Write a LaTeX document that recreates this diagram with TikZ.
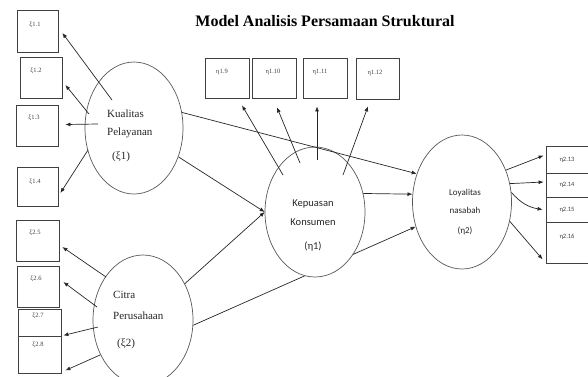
\documentclass[tikz,border=0pt]{standalone}
\usepackage{fontspec}
\setmainfont{Liberation Serif}
\newfontfamily\sanf{Carlito}
\usetikzlibrary{shapes.geometric,arrows.meta,calc,backgrounds}
\begin{document}
\begin{tikzpicture}[x=1pt,y=-1pt,
  box/.style={draw=black!75, line width=0.8pt, rectangle, inner sep=0pt},
  ell/.style={draw=black!65, line width=0.7pt, ellipse, fill=white, inner sep=0pt},
  conn/.style={draw=black!85, line width=0.7pt, -{Latex[length=5pt,width=4pt]}},
  lbl/.style={font=\fontsize{6.5}{7}\selectfont, inner sep=0pt, text=black!75},
  slbl/.style={font=\sanf\fontsize{6.5}{7}\selectfont, inner sep=0pt, text=black!75},
  serift/.style={font=\fontsize{11}{18}\selectfont, inner sep=0pt, align=left, text=black!85},
  sanst/.style={font=\sanf\fontsize{10.5}{19}\selectfont, inner sep=0pt, align=center, text=black!85},
]
\useasboundingbox (0,0) rectangle (588,376);
\clip (0,0) rectangle (588,376);

% title
\node[font=\bfseries\fontsize{16}{18}\selectfont, inner sep=0pt] (title) at (325,21) {Model Analisis Persamaan Struktural};

% left boxes
\node[box, minimum width=41pt, minimum height=42pt] (b1) at (37.5,31) {};
\node[box, minimum width=42pt, minimum height=41pt] (b2) at (41,77.5) {};
\node[box, minimum width=42pt, minimum height=41pt] (b3) at (37,125.5) {};
\node[box, minimum width=41pt, minimum height=39pt] (b4) at (37.5,186.5) {};
\node[box, minimum width=43pt, minimum height=41pt] (b5) at (37.5,240.5) {};
\node[box, minimum width=42pt, minimum height=41pt] (b6) at (38,286.5) {};
\node[box, minimum width=43pt, minimum height=27pt] (b7) at (39.5,322.5) {};
\node[box, minimum width=43pt, minimum height=37pt] (b8) at (39.5,354.5) {};
\node[lbl] (l1) at (35,25) {ξ1.1};
\node[lbl] (l2) at (36,71) {ξ1.2};
\node[lbl] (l3) at (34,118) {ξ1.3};
\node[lbl] (l4) at (35,182) {ξ1.4};
\node[lbl] (l5) at (35,233) {ξ2.5};
\node[lbl] (l6) at (36,279) {ξ2.6};
\node[lbl] (l7) at (38,316) {ξ2.7};
\node[lbl] (l8) at (38,345) {ξ2.8};

% top boxes
\node[box, minimum width=44pt, minimum height=40pt] (b9) at (227,78) {};
\node[box, minimum width=44pt, minimum height=40pt] (b10) at (274,78) {};
\node[box, minimum width=44pt, minimum height=40pt] (b11) at (325,78) {};
\node[box, minimum width=43pt, minimum height=41pt] (b12) at (377.5,78.5) {};
\node[lbl] (l9) at (222,72) {η1.9};
\node[lbl] (l10) at (273,72) {η1.10};
\node[lbl] (l11) at (320,72) {η1.11};
\node[lbl] (l12) at (375,73) {η1.12};

% right boxes
\node[box, minimum width=54pt, minimum height=27pt] (b13) at (573,159.5) {};
\node[box, minimum width=54pt, minimum height=24pt] (b14) at (573,185) {};
\node[box, minimum width=54pt, minimum height=25pt] (b15) at (573,209.5) {};
\node[box, minimum width=54pt, minimum height=41pt] (b16) at (573,242.5) {};
\node[slbl] (l13) at (567,160) {η2.13};
\node[slbl] (l14) at (567,185) {η2.14};
\node[slbl] (l15) at (567,210) {η2.15};
\node[slbl] (l16) at (567,237) {η2.16};

% latent variables
\node[ell, minimum width=98pt, minimum height=132pt] (kual) at (134,128) {};
\node[ell, minimum width=100pt, minimum height=130pt] (citra) at (143,320) {};
\node[ell, minimum width=100pt, minimum height=130pt] (kep) at (315,212) {};
\node[ell, minimum width=99pt, minimum height=134pt] (loy) at (462,202) {};

\begin{pgfonlayer}{background}
\draw[conn] (citra.-6) -- (loy.208);
\end{pgfonlayer}

\node[serift, anchor=north west] (kualtxt) at (107,110) {Kualitas\\Pelayanan\\[6pt]\hspace*{5pt}(ξ1)};
\node[serift, font=\fontsize{11}{21}\selectfont, anchor=north west] (citratxt) at (113,291) {Citra\\Perusahaan\\[6pt]\hspace*{4pt}(ξ2)};
\node[sanst, anchor=north] (keptxt) at (313,200) {Kepuasan\\Konsumen\\[5pt](η1)};
\node[sanst, font=\sanf\fontsize{9}{18}\selectfont, anchor=north] (loytxt) at (465,189) {Loyalitas\\nasabah\\[2pt](η2)};

% measurement arrows, Kualitas Pelayanan
\draw[conn] ($(kual.center)+(-22,-28)$) -- ($(b1.east)+(4,2)$);
\draw[conn] ($(kual.center)+(-45,-14)$) -- ($(b2.east)+(3,7.5)$);
\draw[conn] ($(kual.center)+(-36,-4)$) -- ($(b3.east)+(7,-1)$);
\draw[conn] ($(kual.center)+(-46,22)$) -- ($(b4.east)+(2,6.5)$);
% Citra Perusahaan
\draw[conn] ($(citra.center)+(-37,-43)$) -- ($(b5.east)+(3,6.5)$);
\draw[conn] ($(citra.center)+(-46,-13)$) -- ($(b6.east)+(4,-4.5)$);
\draw[conn] ($(citra.center)+(-45,7)$) -- ($(b7.south east)+(2,-1)$);
\draw[conn] ($(citra.center)+(-43,35)$) -- ($(b8.south east)+(4,-3)$);
% Kepuasan Konsumen
\draw[conn] ($(kep.center)+(-32,-37)$) -- ($(b9.south)+(15,7)$);
\draw[conn] ($(kep.center)+(-15,-49)$) -- ($(b10.south)+(3,9)$);
\draw[conn] ($(kep.center)+(2,-52)$) -- ($(b11.south)+(-8,8)$);
\draw[conn] ($(kep.center)+(28,-37)$) -- ($(b12.south)+(-9.5,7)$);
% Loyalitas nasabah
\draw[conn] (loy.36) -- ($(b13.west)+(-2,-4)$);
\draw[conn] (loy.21) -- ($(b14.west)+(-2,-3)$);
\draw[conn] (loy.11) to[bend right=20] ($(b15.west)+(-3,0)$);
\draw[conn] (loy.-22) -- ($(b16.south west)+(-3,-4)$);

% structural paths
\draw[conn] (kual.18) -- (loy.148);
\draw[conn] (kep.21) -- (loy.171);
\draw[conn] (kual.-33) -- (kep.west);
\draw[conn] (citra.41) -- (kep.west);
\end{tikzpicture}
\end{document}
